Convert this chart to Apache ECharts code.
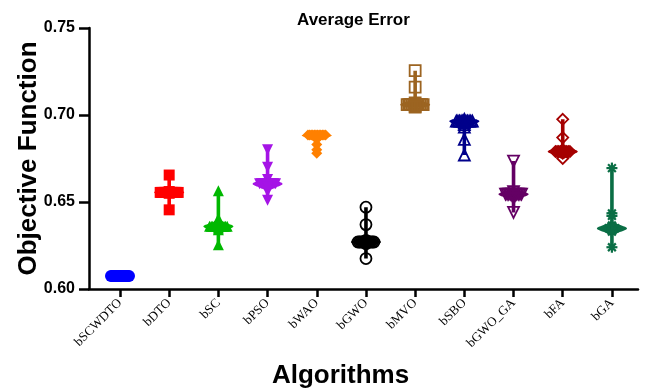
<!DOCTYPE html>
<html><head><meta charset="utf-8">
<script src="https://cdn.jsdelivr.net/npm/echarts@6/dist/echarts.min.js"></script>
<style>html,body{margin:0;padding:0;background:#fff}#c{width:649px;height:388px}</style>
</head><body><div id="c"></div>
<script>
const categories = ['bSCWDTO','bDTO','bSC','bPSO','bWAO','bGWO','bMVO','bSBO','bGWO_GA','bFA','bGA'];
const bSCWDTO = [0.6075,0.6075,0.6075,0.6075,0.6075,0.6075,0.6075,0.6075,0.6075,0.6075,0.6075,0.6075,0.6075,0.6075,0.6075,0.6075];
const bDTO = [0.6655,0.6560,0.6555,0.6555,0.6555,0.6555,0.6555,0.6555,0.6555,0.6555,0.6555,0.6555,0.6555,0.6555,0.6555,0.6555,0.6550,0.6455];
const bSC = [0.6565,0.6405,0.6370,0.6360,0.6360,0.6360,0.6360,0.6360,0.6360,0.6360,0.6360,0.6360,0.6360,0.6360,0.6360,0.6350,0.6340,0.6255];
const bPSO = [0.6800,0.6700,0.6630,0.6605,0.6605,0.6605,0.6605,0.6605,0.6605,0.6605,0.6605,0.6605,0.6605,0.6605,0.6595,0.6585,0.6560,0.6510];
const bWAO = [0.6885,0.6885,0.6885,0.6885,0.6885,0.6885,0.6885,0.6885,0.6885,0.6885,0.6885,0.6885,0.6880,0.6860,0.6830,0.6800,0.6780];
const bGWO = [0.6470,0.6370,0.6280,0.6270,0.6270,0.6270,0.6270,0.6270,0.6270,0.6270,0.6270,0.6270,0.6270,0.6270,0.6260,0.6175];
const bMVO = [0.7255,0.7160,0.7070,0.7060,0.7060,0.7060,0.7060,0.7060,0.7060,0.7060,0.7060,0.7060,0.7060,0.7060,0.7050,0.7045];
const bSBO = [0.6975,0.6965,0.6965,0.6965,0.6965,0.6965,0.6965,0.6965,0.6965,0.6965,0.6965,0.6965,0.6955,0.6945,0.6930,0.6860,0.6770];
const bGWO_GA = [0.6735,0.6560,0.6545,0.6545,0.6545,0.6545,0.6545,0.6545,0.6545,0.6545,0.6545,0.6545,0.6545,0.6535,0.6520,0.6440];
const bFA = [0.6975,0.6870,0.6800,0.6790,0.6790,0.6790,0.6790,0.6790,0.6790,0.6790,0.6790,0.6790,0.6790,0.6780,0.6750];
const bGA = [0.6695,0.6435,0.6420,0.6365,0.6360,0.6355,0.6350,0.6350,0.6350,0.6350,0.6350,0.6345,0.6345,0.6345,0.6340,0.6335,0.6330,0.6240];
const yTicks = [0.60, 0.65, 0.70, 0.75];

const seriesValues = [bSCWDTO,bDTO,bSC,bPSO,bWAO,bGWO,bMVO,bSBO,bGWO_GA,bFA,bGA];
const colors = ['#0000ff','#ff0000','#00b800','#a514e6','#ff8000','#000000','#9c6421','#00008b','#640064','#a50000','#0a6e45'];
const symbols = ['circle','rect','triangle','triangleDown','diamond','circle','rect','triangle','triangleDown','diamond','asterisk'];
const hollow = [false,false,false,false,false,true,true,true,true,true,false];

function makeSymbol(kind, x, y, s, color, open){
  const h = s/2;
  const style = open ? {fill:'none', stroke:color, lineWidth:1.8} : {fill:color};
  if (kind === 'circle') return {type:'circle', shape:{cx:x, cy:y, r:h}, style};
  if (kind === 'rect') return {type:'rect', shape:{x:x-h, y:y-h, width:s, height:s}, style};
  if (kind === 'triangle') return {type:'polygon', shape:{points:[[x,y-h],[x+h,y+h],[x-h,y+h]]}, style};
  if (kind === 'triangleDown') return {type:'polygon', shape:{points:[[x,y+h],[x+h,y-h],[x-h,y-h]]}, style};
  if (kind === 'diamond') return {type:'polygon', shape:{points:[[x,y-h],[x+h,y],[x,y+h],[x-h,y]]}, style};
  const lines = [];
  for (let a = 0; a < 4; a++) {
    const ang = a*Math.PI/4;
    const dx = Math.cos(ang)*h, dy = Math.sin(ang)*h;
    lines.push({type:'line', shape:{x1:x-dx, y1:y-dy, x2:x+dx, y2:y+dy}, style:{stroke:color, lineWidth:2.2}});
  }
  lines.push({type:'circle', shape:{cx:x, cy:y, r:2.5}, style:{fill:color}});
  return {type:'group', children:lines};
}

function renderItem(params, api){
  const i = api.value(0);
  const vals = seriesValues[i];
  const color = colors[i];
  const cx = api.coord([i, vals[0]])[0];
  const sorted = vals.slice().sort((a,b)=>a-b);
  const lo = sorted[0], hi = sorted[sorted.length-1];
  const children = [];
  if (hi - lo > 1e-9) {
    const bw = 0.0016, steps = 120;
    const dens = [];
    for (let k = 0; k <= steps; k++) {
      const y = lo + (hi-lo)*k/steps;
      let d = 0;
      for (const v of vals) { const z = (y-v)/bw; d += Math.exp(-0.5*z*z); }
      dens.push([y, d]);
    }
    const dmax = Math.max(...dens.map(d=>d[1]));
    const right = [], left = [];
    dens.forEach(([y,d]) => {
      const py = api.coord([i, y])[1];
      const w = Math.max(1.8, 15*d/dmax);
      right.push([cx+w, py]); left.push([cx-w, py]);
    });
    children.push({type:'polygon', shape:{points:right.concat(left.reverse())}, style:{fill:color}});
  }
  const groups = {};
  vals.forEach(v => { const k = v.toFixed(4); groups[k] = (groups[k]||0)+1; });
  const s = symbols[i] === 'circle' && !hollow[i] ? 12 : 11;
  Object.keys(groups).forEach(k => {
    const n = groups[k], v = +k;
    const py = api.coord([i, v])[1];
    const spread = Math.min(9, (n-1)*0.8);
    for (let j = 0; j < n; j++) {
      const off = n > 1 ? -spread + 2*spread*j/(n-1) : 0;
      children.push(makeSymbol(symbols[i], cx+off, py, s, color, hollow[i]));
    }
  });
  return {type:'group', children};
}

const chart = echarts.init(document.getElementById('c'), null, {renderer:'canvas'});
const idx = categories.map((c,i)=>i);
chart.setOption({
  animation:false,
  backgroundColor:'#fff',
  title:{text:'Average Error', left:292, top:7, textStyle:{fontFamily:'Liberation Sans', fontSize:17, fontWeight:'bold', color:'#000'}},
  grid:{left:89, right:11, top:28, bottom:99, containLabel:false, outerBoundsMode:'none'},
  xAxis:{type:'value', min:-0.63, max:10.53,
    name:'Algorithms', nameLocation:'middle', nameGap:74, nameMoveOverlap:false,
    nameTextStyle:{fontFamily:'Liberation Sans', fontSize:26, fontWeight:'bold', color:'#000', padding:[0,46,0,0]},
    axisLine:{onZero:false, lineStyle:{color:'#000', width:2.5}},
    axisTick:{customValues:idx, length:8, lineStyle:{color:'#000', width:2.5}},
    axisLabel:{customValues:idx, rotate:45, fontFamily:'Liberation Serif', fontSize:13, color:'#000', margin:12,
      formatter:v=>categories[Math.round(v)]},
    splitLine:{show:false}},
  yAxis:{type:'value', min:0.60, max:0.75, interval:0.05,
    name:'Objective Function', nameLocation:'middle', nameGap:47, nameMoveOverlap:false,
    nameTextStyle:{fontFamily:'Liberation Sans', fontSize:26, fontWeight:'bold', color:'#000'},
    axisLine:{show:true, onZero:false, lineStyle:{color:'#000', width:2.5}},
    axisTick:{show:true, length:10, lineStyle:{color:'#000', width:2.5}},
    axisLabel:{fontFamily:'Liberation Sans', fontSize:16, fontWeight:'bold', color:'#000', margin:14,
      formatter:v=>v.toFixed(2)},
    splitLine:{show:false}},
  series:[{type:'custom', renderItem, data:idx.map(i=>[i]), encode:{x:0}, clip:false}]
});
</script></body></html>
